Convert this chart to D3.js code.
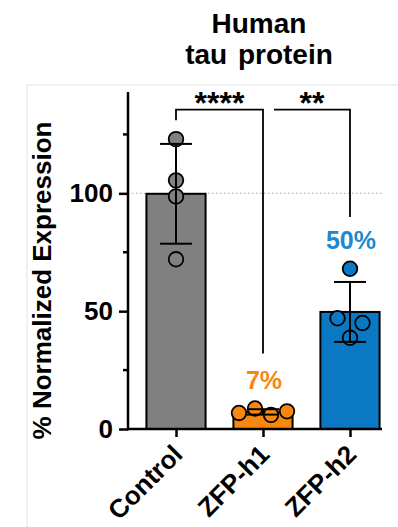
<!DOCTYPE html>
<html>
<head>
<meta charset="utf-8">
<script src="https://cdn.jsdelivr.net/npm/d3@7"></script>
<style>
  body { margin: 0; background: #fff; }
  text { font-family: Arial, "Liberation Sans", sans-serif; font-weight: bold; }
</style>
</head>
<body>
<div id="viz"></div>
<script>
// bar + scatter chart, mean +/- SD
// values (% normalized expression)

const groups = ['Control', 'ZFP-h1', 'ZFP-h2'];
const controlValues = [123, 105.5, 98.7, 72];
const zfpH1Values = [6.8, 8.7, 6.0, 7.5];
const zfpH2Values = [68, 47, 45, 38.7];
const barLabels = ['', '7%', '50%'];
const yTicks = [0, 50, 100];
const yMinorTicks = [25, 75, 125];
const titleLines = ['Human', 'tau protein'];
const yLabel = '% Normalized Expression';

// significance brackets: group indices, y of bar in data units, leg ends
const comparisons = [
    { from: 0, to: 1, label: '****', top: 135.5, leftEnd: 131, rightEnd: 32, shift: 0 },
    { from: 1, to: 2, label: '**', top: 135.5, leftEnd: 135.5, rightEnd: 90, shift: 11 }
];

const colors = ['#808080', '#f7870f', '#0a78c2'];
const labelColors = ['#000', '#f7870f', '#1f88cf'];

function drawChart() {
    const allValues = [controlValues, zfpH1Values, zfpH2Values];

    const dimensions = {
        width: 398,
        height: 527,
        axisX: 128,
        axisRight: 382,
        baseY: 429,
        topY: 92
    };

    const viz = d3.select('#viz').append('svg')
        .attr('width', dimensions.width)
        .attr('height', dimensions.height);

    // faint panel frame
    viz.append('path')
        .attr('d', `M27,527 V85 H398`)
        .attr('fill', 'none')
        .attr('stroke', '#e2e2e2')
        .attr('stroke-width', 1);

    // scales
    const yScale = d3.scaleLinear()
        .domain([0, 143])
        .range([dimensions.baseY, dimensions.topY]);

    const xScale = d3.scalePoint()
        .domain(groups)
        .range([176, 350]);

    const barWidth = xScale.step() * 0.68;
    const r = 7.3;

    const stats = groups.map((g, i) => {
        const vals = allValues[i];
        return { group: g, mean: d3.mean(vals), sd: d3.deviation(vals), vals: vals, i: i };
    });

    // dotted 100% reference line
    viz.append('line')
        .attr('x1', dimensions.axisX)
        .attr('x2', dimensions.axisRight)
        .attr('y1', yScale(100))
        .attr('y2', yScale(100))
        .attr('stroke', '#aaa')
        .attr('stroke-width', 1)
        .attr('stroke-dasharray', '1.5,2.5');

    // bars
    viz.selectAll('.bar')
        .data(stats)
        .join('rect')
        .attr('class', 'bar')
        .attr('x', d => xScale(d.group) - barWidth / 2)
        .attr('width', barWidth)
        .attr('y', d => yScale(d.mean))
        .attr('height', d => yScale(0) - yScale(d.mean))
        .attr('fill', d => colors[d.i])
        .attr('stroke', '#000')
        .attr('stroke-width', 2);

    // points: points closer than a diameter get spread in a row
    const points = [];
    stats.forEach(s => {
        const ys = s.vals.map(v => yScale(v));
        const clusters = [];
        ys.forEach((y, k) => {
            const c = clusters.find(cl => cl.some(j => Math.abs(ys[j] - y) < 2 * r));
            if (c) c.push(k); else clusters.push([k]);
        });
        clusters.forEach(cl => {
            const sp = cl.length > 2 ? 16 : 25;
            cl.forEach((k, n) => {
                points.push({
                    x: xScale(s.group) + (n - (cl.length - 1) / 2) * sp,
                    y: ys[k],
                    i: s.i
                });
            });
        });
    });

    viz.selectAll('.dot')
        .data(points)
        .join('circle')
        .attr('class', 'dot')
        .attr('cx', d => d.x)
        .attr('cy', d => d.y)
        .attr('r', r)
        .attr('fill', d => colors[d.i])
        .attr('stroke', '#000')
        .attr('stroke-width', 1.8);

    // error bars (mean +/- SD)
    const err = viz.selectAll('.err')
        .data(stats)
        .join('g')
        .attr('class', 'err')
        .attr('stroke', '#000')
        .attr('stroke-width', 2);

    err.append('line')
        .attr('x1', d => xScale(d.group))
        .attr('x2', d => xScale(d.group))
        .attr('y1', d => yScale(d.mean - d.sd))
        .attr('y2', d => yScale(d.mean + d.sd));

    err.selectAll('.cap')
        .data(d => [d.mean - d.sd, d.mean + d.sd].map(v => ({ v: v, group: d.group })))
        .join('line')
        .attr('class', 'cap')
        .attr('x1', d => xScale(d.group) - 16)
        .attr('x2', d => xScale(d.group) + 16)
        .attr('y1', d => yScale(d.v))
        .attr('y2', d => yScale(d.v));

    // percentage labels
    viz.selectAll('.pct')
        .data(stats.filter(d => barLabels[d.i]))
        .join('text')
        .attr('class', 'pct')
        .attr('x', d => xScale(d.group) + 1)
        .attr('y', d => yScale(d3.max(d.vals)) - r - 12)
        .attr('text-anchor', 'middle')
        .attr('font-size', 25)
        .attr('fill', d => labelColors[d.i])
        .text(d => barLabels[d.i]);

    // significance brackets
    comparisons.forEach(c => {
        const x1 = xScale(groups[c.from]) + c.shift;
        const x2 = xScale(groups[c.to]);
        viz.append('path')
            .attr('d', `M${x1},${yScale(c.leftEnd)} V${yScale(c.top)} H${x2} V${yScale(c.rightEnd)}`)
            .attr('fill', 'none')
            .attr('stroke', '#000')
            .attr('stroke-width', 1.8);
        viz.append('text')
            .attr('x', (x1 + x2) / 2)
            .attr('y', yScale(c.top) + 4)
            .attr('text-anchor', 'middle')
            .attr('font-size', 32)
            .text(c.label);
    });

    // y axis
    const yAxis = viz.append('g')
        .attr('transform', `translate(${dimensions.axisX},0)`)
        .call(d3.axisLeft(yScale).tickValues(yTicks).tickSize(9).tickPadding(6).tickFormat(d3.format('d')));
    yAxis.select('.domain').remove();
    yAxis.selectAll('.tick line').attr('stroke-width', 2.5);
    yAxis.selectAll('.tick text')
        .attr('font-size', 26)
        .attr('font-family', 'Arial, "Liberation Sans", sans-serif')
        .attr('font-weight', 'bold')
        .attr('fill', '#000');

    yAxis.selectAll('.minor')
        .data(yMinorTicks)
        .join('line')
        .attr('class', 'minor')
        .attr('x1', -5)
        .attr('x2', 0)
        .attr('y1', d => yScale(d))
        .attr('y2', d => yScale(d))
        .attr('stroke', '#000')
        .attr('stroke-width', 2.5);

    yAxis.append('line')
        .attr('y1', yScale(0) + 1.25)
        .attr('y2', yScale.range()[1])
        .attr('stroke', '#000')
        .attr('stroke-width', 2.5);

    // x axis
    const xAxis = viz.append('g')
        .attr('transform', `translate(0,${dimensions.baseY})`)
        .call(d3.axisBottom(xScale).tickSize(8).tickFormat(''));
    xAxis.select('.domain').remove();
    xAxis.selectAll('.tick line').attr('stroke-width', 2.5);
    xAxis.append('line')
        .attr('x1', dimensions.axisX)
        .attr('x2', dimensions.axisRight)
        .attr('stroke', '#000')
        .attr('stroke-width', 2.5);

    viz.selectAll('.xlabel')
        .data(groups)
        .join('text')
        .attr('class', 'xlabel')
        .attr('transform', d => `translate(${xScale(d) + 8},${dimensions.baseY + 27}) rotate(-45)`)
        .attr('text-anchor', 'end')
        .attr('font-size', 26)
        .text(d => d);

    // y label
    viz.append('text')
        .attr('transform', `translate(51,${(118 + 443) / 2}) rotate(-90)`)
        .attr('text-anchor', 'middle')
        .attr('font-size', 26)
        .text(yLabel);

    // title
    viz.selectAll('.title')
        .data(titleLines)
        .join('text')
        .attr('class', 'title')
        .attr('x', 259)
        .attr('y', (d, i) => 33 + i * 31)
        .attr('text-anchor', 'middle')
        .attr('font-size', 28)
        .attr('word-spacing', 3)
        .text(d => d);
}

drawChart();
</script>
</body>
</html>
